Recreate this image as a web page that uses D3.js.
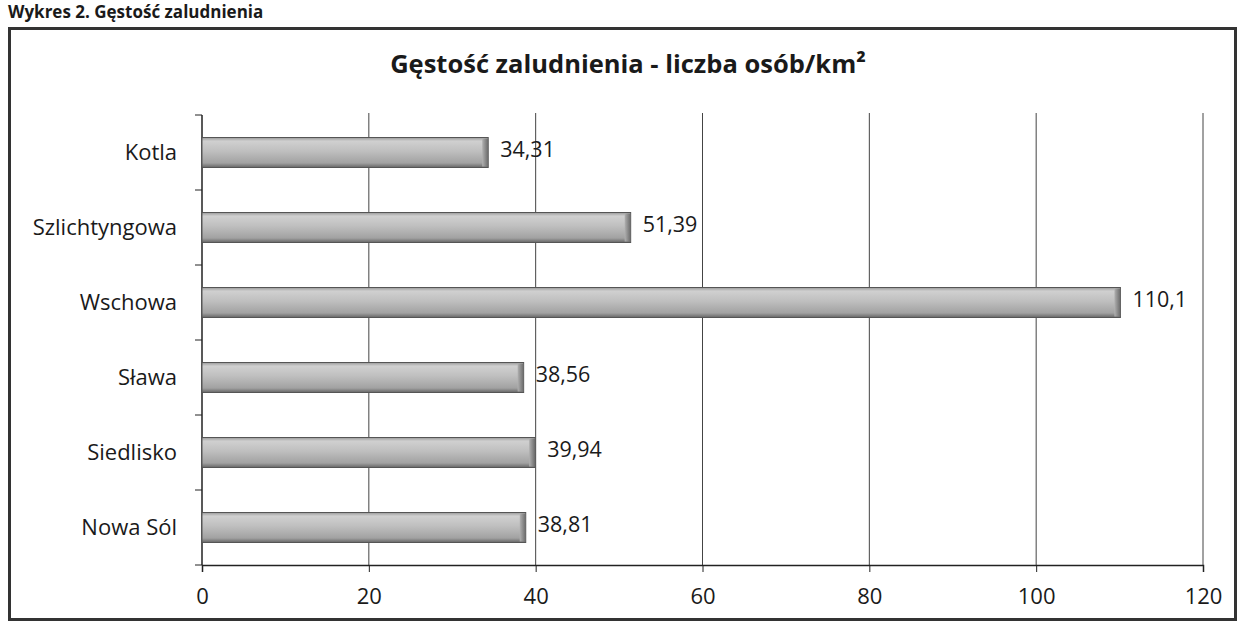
<!DOCTYPE html>
<html><head><meta charset="utf-8">
<script src="https://cdn.jsdelivr.net/npm/d3@7"></script>
<style>body{margin:0;background:#fff}svg{display:block}text{font-family:"Open Sans","Lato",sans-serif;fill:#1a1a1a}</style>
</head><body><svg id="c" width="1242" height="624"></svg>
<script>
const categories = ["Kotla","Szlichtyngowa","Wschowa","Sława","Siedlisko","Nowa Sól"];
const values = [34.31, 51.39, 110.1, 38.56, 39.94, 38.81];
const valueLabels = ["34,31","51,39","110,1","38,56","39,94","38,81"];
const xTicks = [0,20,40,60,80,100,120];
const title = "Gęstość zaludnienia - liczba osób/km²";
const caption = "Wykres 2. Gęstość zaludnienia";

const svg = d3.select("#c");
const defs = svg.append("defs");
const g1 = defs.append("linearGradient").attr("id","bar").attr("x1",0).attr("x2",0).attr("y1",0).attr("y2",1);
[[0,"#9a9a9a"],[0.12,"#d0d0d0"],[0.45,"#bfbfbf"],[0.85,"#a2a2a2"],[1,"#666"]].forEach(([o,c])=>g1.append("stop").attr("offset",o).attr("stop-color",c));
const g2 = defs.append("linearGradient").attr("id","cap").attr("x1",0).attr("x2",1).attr("y1",0).attr("y2",0);
[[0,"#b0b0b0"],[1,"#6a6a6a"]].forEach(([o,c])=>g2.append("stop").attr("offset",o).attr("stop-color",c));

// caption
svg.append("text").attr("x",8).attr("y",18).attr("font-size",17).attr("font-weight","bold").attr("fill","#555").text(caption);
// frame
svg.append("rect").attr("x",9.5).attr("y",28.5).attr("width",1226).attr("height",591).attr("fill","none").attr("stroke","#333").attr("stroke-width",3);

svg.append("text").attr("x",628).attr("y",73).attr("text-anchor","middle").attr("font-size",25.5).attr("font-weight","bold").text(title);

const x = d3.scaleLinear().domain([0,120]).range([202,1203]);
const y = d3.scaleBand().domain(categories).range([115,565]).paddingInner(0.6).paddingOuter(0.3);

// gridlines
svg.append("g").selectAll("line").data(xTicks.slice(1)).join("line")
  .attr("x1",d=>x(d)).attr("x2",d=>x(d)).attr("y1",113).attr("y2",565)
  .attr("stroke","#444").attr("stroke-width",1);

// x axis
const xa = svg.append("g").attr("transform","translate(0,565)")
  .call(d3.axisBottom(x).tickValues(xTicks).tickSize(7).tickPadding(16).tickFormat(d=>d));
xa.select(".domain").attr("stroke","#222").attr("stroke-width",1.5);
xa.selectAll(".tick line").attr("stroke","#222");
xa.selectAll("text").attr("font-size",22).attr("font-family","Open Sans, sans-serif").attr("fill","#1a1a1a");

// y axis (ticks between categories)
const yBounds = d3.range(categories.length+1).map(i=>115+i*75);
const ya = svg.append("g");
ya.append("line").attr("x1",202).attr("x2",202).attr("y1",115).attr("y2",565).attr("stroke","#222").attr("stroke-width",1.5);
ya.selectAll("line.t").data(yBounds).join("line").attr("class","t")
  .attr("x1",195).attr("x2",202).attr("y1",d=>d).attr("y2",d=>d).attr("stroke","#222");
ya.selectAll("text").data(categories).join("text")
  .attr("x",177).attr("y",d=>y(d)+y.bandwidth()/2).attr("dy","0.35em")
  .attr("text-anchor","end").attr("font-size",22).text(d=>d);

// bars
const bars = svg.append("g").selectAll("g").data(categories).join("g");
bars.append("rect").attr("x",x(0)).attr("y",d=>y(d)).attr("height",y.bandwidth())
  .attr("width",(d,i)=>x(values[i])-x(0)).attr("fill","url(#bar)").attr("stroke","#555").attr("stroke-width",1);
bars.append("rect").attr("x",(d,i)=>x(values[i])-6).attr("y",d=>y(d)+1).attr("height",y.bandwidth()-2)
  .attr("width",6).attr("fill","url(#cap)");
bars.append("text").attr("x",(d,i)=>x(values[i])+12).attr("y",d=>y(d)+y.bandwidth()/2).attr("dy","0.2em")
  .attr("font-size",21.5).text((d,i)=>valueLabels[i]);
</script></body></html>
